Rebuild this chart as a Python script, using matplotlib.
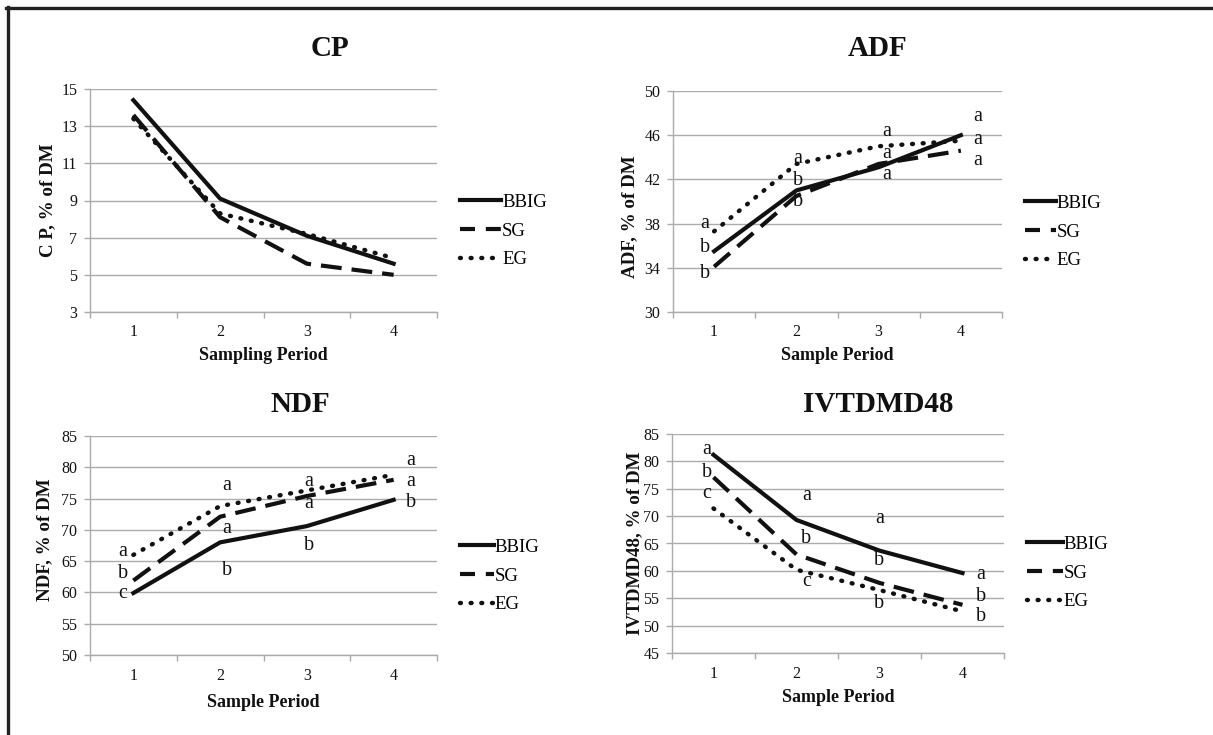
import matplotlib
matplotlib.use('Agg')
import matplotlib.pyplot as plt
from matplotlib.lines import Line2D
from matplotlib.ticker import FixedLocator

plt.rcParams['font.family'] = ['Liberation Serif', 'DejaVu Serif']

periods = [1, 2, 3, 4]
groups = ['BBIG', 'SG', 'EG']

# values
cp_bbig = [14.4, 9.1, 7.1, 5.6]
cp_sg = [13.6, 8.1, 5.6, 5.0]
cp_eg = [13.4, 8.3, 7.2, 5.9]

adf_bbig = [35.5, 41.0, 43.1, 46.0]
adf_sg = [34.1, 40.5, 43.4, 44.6]
adf_eg = [37.3, 43.4, 45.0, 45.5]

ndf_bbig = [59.9, 68.0, 70.6, 74.8]
ndf_sg = [61.9, 72.1, 75.4, 78.0]
ndf_eg = [66.0, 73.8, 76.3, 78.8]

ivt_bbig = [81.2, 69.3, 63.7, 59.6]
ivt_sg = [77.1, 63.0, 57.8, 53.8]
ivt_eg = [71.4, 60.2, 56.5, 52.6]

# significance letters (top to bottom at each period) and their heights
adf_letters = [['a', 'b', 'b'], ['a', 'b', 'b'], ['a', 'a', 'a'], ['a', 'a', 'a']]
adf_letter_y = [[38.0, 35.8, 33.5], [43.9, 41.9, 40.0], [46.3, 44.3, 42.4], [47.7, 45.6, 43.7]]
adf_letter_dx = [-0.11, 0.02, 0.1, 0.2]

ndf_letters = [['a', 'b', 'c'], ['a', 'a', 'b'], ['a', 'a', 'b'], ['a', 'a', 'b']]
ndf_letter_y = [[66.5, 63.1, 59.8], [77.1, 70.2, 63.5], [77.7, 74.2, 67.5], [81.1, 77.7, 74.4]]
ndf_letter_dx = [-0.12, 0.08, 0.02, 0.2]

ivt_letters = [['a', 'b', 'c'], ['a', 'b', 'c'], ['a', 'b', 'b'], ['a', 'b', 'b']]
ivt_letter_y = [[82.1, 78.0, 74.1], [73.7, 66.0, 58.0], [69.5, 61.9, 54.0], [59.3, 55.3, 51.6]]
ivt_letter_dx = [-0.08, 0.12, 0.0, 0.22]

W, H = 1213, 735
fig = plt.figure(figsize=(W / 100, H / 100), dpi=100)
fig.patch.set_facecolor('white')

ink = '#111111'
grid_c = '#ababab'


def px_axes(x0, x1, y0, y1):
    return fig.add_axes([x0 / W, 1 - y1 / H, (x1 - x0) / W, (y1 - y0) / H])


def panel(box, series, ylim, ystep, title, title_xy, ylabel, ylab_pos, xlabel, xlab_y,
          leg_xy, hlen, letters=None, letter_y=None, letter_dx=None):
    ax = px_axes(*box)
    styles = [
        dict(ls='-', lw=3.0),
        dict(ls=(0, (5.0, 2.4)), lw=3.0),
        dict(ls=(0, (0.2, 2.2)), lw=3.2, dash_capstyle='round'),
    ]
    for vals, name, st in zip(series, groups, styles):
        ax.plot(periods, vals, color=ink, label=name, **st)

    ax.set_xlim(0.5, 4.5)
    ax.set_ylim(*ylim)
    yt = list(range(ylim[0], ylim[1] + 1, ystep))
    ax.set_yticks(yt)
    ax.set_xticks(periods)
    ax.xaxis.set_minor_locator(FixedLocator([0.5, 1.5, 2.5, 3.5, 4.5]))
    ax.grid(axis='y', color=grid_c, lw=1.0)
    ax.set_axisbelow(True)
    for s in ['top', 'right']:
        ax.spines[s].set_visible(False)
    for s in ['left', 'bottom']:
        ax.spines[s].set_color(grid_c)
        ax.spines[s].set_linewidth(1.0)
    ax.tick_params(axis='x', which='major', length=0, pad=9, labelsize=11.5, labelcolor=ink)
    ax.tick_params(axis='x', which='minor', length=4, color=grid_c, width=1.0)
    ax.tick_params(axis='y', length=4, color=grid_c, width=1.0, pad=5, labelsize=11.5,
                   labelcolor=ink)

    ax.set_ylabel(ylabel, fontsize=13.7, fontweight='bold', color=ink, va='center')
    ax.yaxis.set_label_coords(*ylab_pos)
    ax.set_xlabel(xlabel, fontsize=13, fontweight='bold', color=ink, va='center')
    ax.xaxis.set_label_coords(0.5, xlab_y)

    fig.text(title_xy[0] / W, 1 - title_xy[1] / H, title, fontsize=21, fontweight='bold',
             ha='center', va='center', color=ink)

    leg = ax.legend(loc='center left', bbox_to_anchor=(leg_xy[0] / W, 1 - leg_xy[1] / H),
                    bbox_transform=fig.transFigure, frameon=False, fontsize=13.5,
                    handlelength=hlen, handletextpad=0.05, labelspacing=0.62,
                    borderaxespad=0, borderpad=0)
    # shorter dashes in the legend key so two dashes show, as in the original
    leg.get_lines()[1].set_linestyle((0, (3.6, 2.6)))

    if letters is not None:
        for i, p in enumerate(periods):
            for lt, ly in zip(letters[i], letter_y[i]):
                ax.text(p + letter_dx[i], ly, lt, fontsize=14.5, ha='center', va='center',
                        color=ink)
    return ax


panel((90, 437, 89, 312), [cp_bbig, cp_sg, cp_eg], (3, 15), 2, 'CP', (330, 48),
      'C P, % of DM', (-0.121, 0.5), 'Sampling Period', -0.193, (460, 231), 2.2)

panel((673, 1002, 91, 312), [adf_bbig, adf_sg, adf_eg], (30, 50), 4, 'ADF', (878, 48),
      'ADF, % of DM', (-0.131, 0.43), 'Sample Period', -0.195, (1025, 232), 1.65,
      adf_letters, adf_letter_y, adf_letter_dx)

panel((90, 437, 436, 655), [ndf_bbig, ndf_sg, ndf_eg], (50, 85), 5, 'NDF', (300, 405),
      'NDF, % of DM', (-0.13, 0.525), 'Sample Period', -0.215, (460, 576), 1.8,
      ndf_letters, ndf_letter_y, ndf_letter_dx)

panel((672, 1004, 434, 653), [ivt_bbig, ivt_sg, ivt_eg], (45, 85), 5, 'IVTDMD48', (878, 405),
      'IVTDMD48, % of DM', (-0.111, 0.5), 'Sample Period', -0.205, (1027, 573), 1.9,
      ivt_letters, ivt_letter_y, ivt_letter_dx)

# frame lines along the top and left edge
fig.add_artist(Line2D([6 / W, 1], [1 - 8 / H, 1 - 8 / H], color='#222222', lw=2.4,
                      transform=fig.transFigure))
fig.add_artist(Line2D([7.5 / W, 7.5 / W], [1 - 7 / H, 0], color='#222222', lw=2.4,
                      transform=fig.transFigure))

fig.savefig('out.png', dpi=100, facecolor='white')
